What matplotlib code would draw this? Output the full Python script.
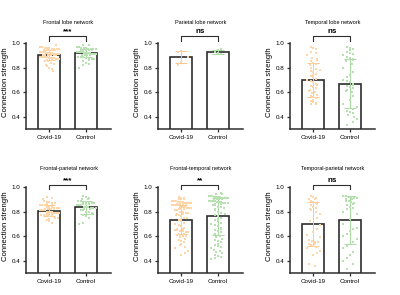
import matplotlib
matplotlib.use('Agg')
import matplotlib.pyplot as plt
import numpy as np

plt.rcParams['font.family'] = ['Liberation Sans', 'DejaVu Sans']

titles = ['Frontal lobe network', 'Parietal lobe network', 'Temporal lobe network',
          'Frontal-parietal network', 'Frontal-temporal network', 'Temporal-parietal network']
groups = ['Covid-19', 'Control']
sigs = ['***', 'ns', 'ns', '***', '**', 'ns']

# bar heights (mean) and SD: (covid, control)
means = [(0.905, 0.918), (0.886, 0.927), (0.697, 0.670),
         (0.805, 0.834), (0.735, 0.760), (0.700, 0.730)]
sds = [(0.04, 0.03), (0.05, 0.02), (0.14, 0.20),
       (0.045, 0.05), (0.12, 0.15), (0.18, 0.195)]

# individual points (estimated)
fl_covid = [0.98, 0.97, 0.97, 0.96, 0.96, 0.96, 0.95, 0.95, 0.95, 0.95, 0.94, 0.94, 0.94, 0.94, 0.94,
            0.93, 0.93, 0.93, 0.93, 0.93, 0.93, 0.92, 0.92, 0.92, 0.92, 0.92, 0.92, 0.92, 0.91, 0.91,
            0.91, 0.91, 0.91, 0.91, 0.91, 0.90, 0.90, 0.90, 0.90, 0.90, 0.90, 0.89, 0.89, 0.89, 0.89,
            0.89, 0.88, 0.88, 0.88, 0.88, 0.87, 0.87, 0.87, 0.86, 0.86, 0.85, 0.85, 0.84, 0.83, 0.82,
            0.81, 0.80, 0.79, 0.77]
fl_control = [0.98, 0.98, 0.97, 0.97, 0.96, 0.96, 0.96, 0.95, 0.95, 0.95, 0.95, 0.94, 0.94, 0.94, 0.94,
              0.94, 0.93, 0.93, 0.93, 0.93, 0.93, 0.93, 0.92, 0.92, 0.92, 0.92, 0.92, 0.92, 0.91, 0.91,
              0.91, 0.91, 0.91, 0.90, 0.90, 0.90, 0.90, 0.89, 0.89, 0.89, 0.88, 0.88, 0.87, 0.87, 0.86,
              0.85, 0.84, 0.83, 0.82, 0.80]
pl_covid = [0.935, 0.93, 0.89, 0.845, 0.82]
pl_control = [0.95, 0.94, 0.93, 0.92, 0.91]
tl_covid = [0.97, 0.96, 0.95, 0.93, 0.92, 0.90, 0.88, 0.87, 0.86, 0.85, 0.84, 0.83, 0.82, 0.80, 0.79,
            0.78, 0.77, 0.76, 0.75, 0.74, 0.73, 0.72, 0.71, 0.70, 0.69, 0.68, 0.67, 0.66, 0.65, 0.64,
            0.63, 0.62, 0.61, 0.60, 0.59, 0.58, 0.57, 0.56, 0.55, 0.54, 0.53, 0.52, 0.51, 0.50, 0.50]
tl_control = [0.97, 0.96, 0.95, 0.94, 0.93, 0.92, 0.91, 0.90, 0.89, 0.88, 0.87, 0.86, 0.85, 0.83,
              0.80, 0.76, 0.74, 0.72, 0.70, 0.69, 0.68, 0.67, 0.66, 0.65, 0.64, 0.63, 0.62, 0.61,
              0.60, 0.57, 0.54, 0.50, 0.48, 0.46, 0.45, 0.44, 0.43, 0.41, 0.40, 0.38, 0.36, 0.33]
fp_covid = [0.92, 0.91, 0.90, 0.89, 0.88, 0.88, 0.87, 0.87, 0.86, 0.86, 0.85, 0.85, 0.85, 0.84, 0.84,
            0.84, 0.83, 0.83, 0.83, 0.82, 0.82, 0.82, 0.82, 0.81, 0.81, 0.81, 0.81, 0.80, 0.80, 0.80,
            0.80, 0.79, 0.79, 0.79, 0.79, 0.78, 0.78, 0.78, 0.77, 0.77, 0.77, 0.76, 0.76, 0.75, 0.75,
            0.74, 0.73, 0.72, 0.71]
fp_control = [0.93, 0.92, 0.91, 0.90, 0.90, 0.89, 0.89, 0.88, 0.88, 0.87, 0.87, 0.87, 0.86, 0.86,
              0.86, 0.85, 0.85, 0.85, 0.84, 0.84, 0.84, 0.83, 0.83, 0.83, 0.82, 0.82, 0.81, 0.81,
              0.80, 0.80, 0.79, 0.78, 0.77, 0.76, 0.75, 0.71, 0.70]
ft_covid = [0.92, 0.91, 0.91, 0.90, 0.90, 0.90, 0.89, 0.89, 0.89, 0.88, 0.88, 0.88, 0.88, 0.87, 0.87,
            0.87, 0.87, 0.86, 0.86, 0.86, 0.86, 0.85, 0.85, 0.85, 0.85, 0.84, 0.84, 0.84, 0.83, 0.83,
            0.83, 0.82, 0.82, 0.82, 0.81, 0.81, 0.80, 0.80, 0.79, 0.79, 0.78, 0.78, 0.77, 0.77, 0.76,
            0.75, 0.75, 0.74, 0.73, 0.72, 0.71, 0.70, 0.69, 0.68, 0.67, 0.66, 0.66, 0.65, 0.65, 0.64,
            0.64, 0.63, 0.63, 0.62, 0.62, 0.61, 0.61, 0.60, 0.60, 0.59, 0.58, 0.57, 0.56, 0.55, 0.54,
            0.53, 0.51, 0.50, 0.48, 0.46, 0.45]
ft_control = [0.95, 0.94, 0.94, 0.93, 0.93, 0.93, 0.92, 0.92, 0.92, 0.92, 0.91, 0.91, 0.91, 0.91,
              0.90, 0.90, 0.90, 0.90, 0.89, 0.89, 0.89, 0.89, 0.88, 0.88, 0.88, 0.87, 0.87, 0.87,
              0.86, 0.86, 0.85, 0.85, 0.84, 0.84, 0.83, 0.82, 0.81, 0.80, 0.79, 0.78, 0.77, 0.76,
              0.75, 0.74, 0.73, 0.72, 0.71, 0.70, 0.69, 0.68, 0.67, 0.66, 0.65, 0.64, 0.63, 0.62,
              0.61, 0.60, 0.59, 0.58, 0.57, 0.56, 0.55, 0.54, 0.53, 0.52, 0.51, 0.50, 0.49, 0.48,
              0.47, 0.46, 0.45, 0.44, 0.43, 0.42, 0.41]
tp_covid = [0.93, 0.92, 0.91, 0.90, 0.90, 0.89, 0.88, 0.87, 0.86, 0.85, 0.84, 0.83, 0.82, 0.81, 0.80,
            0.78, 0.75, 0.72, 0.69, 0.66, 0.63, 0.61, 0.59, 0.57, 0.56, 0.55, 0.55, 0.54, 0.54, 0.53,
            0.52, 0.51, 0.50, 0.48, 0.46, 0.45, 0.37, 0.36]
tp_control = [0.93, 0.93, 0.92, 0.92, 0.91, 0.91, 0.90, 0.90, 0.89, 0.89, 0.88, 0.87, 0.86, 0.85,
              0.84, 0.83, 0.82, 0.80, 0.78, 0.74, 0.70, 0.67, 0.66, 0.64, 0.62, 0.60, 0.58, 0.55,
              0.52, 0.50, 0.47, 0.45, 0.42, 0.40, 0.37, 0.33]

points = [(fl_covid, fl_control), (pl_covid, pl_control), (tl_covid, tl_control),
          (fp_covid, fp_control), (ft_covid, ft_control), (tp_covid, tp_control)]

colors = ['#fdd6aa', '#b8e1b1']
err_colors = ['#fcc890', '#a6d99e']
edge = '#2e2e2e'


def swarm_x(vals, center, binw=0.02, step=0.075):
    # spread points of similar value side by side, single ones alternate around the centre
    vals = np.asarray(vals)
    bins = np.round(vals / binw).astype(int)
    xs = np.zeros(len(vals))
    for b in np.unique(bins):
        idx = np.where(bins == b)[0]
        n = len(idx)
        if n == 1:
            offs = np.array([0.09 * ((b % 5) - 2)])
        elif n == 2:
            offs = np.array([-0.08, 0.08]) + 0.03 * ((b % 3) - 1)
        else:
            st = min(step, 0.52 / (n - 1))
            offs = (np.arange(n) - (n - 1) / 2) * st
        xs[idx] = center + offs
    return xs


fig = plt.figure(figsize=(4, 2.95), dpi=100)
lefts = [0.065, 0.395, 0.725]
bottoms = [0.5627, 0.0746]
w, h = 0.2125, 0.2915

for i in range(6):
    r, c = divmod(i, 3)
    ax = fig.add_axes([lefts[c], bottoms[r], w, h])
    for j in range(2):
        ax.bar(j, means[i][j], width=0.6, color='white', edgecolor=edge, linewidth=1.2, zorder=1)
        ax.errorbar(j, means[i][j], yerr=sds[i][j], color=err_colors[j], capsize=4,
                    elinewidth=0.7, capthick=0.7, zorder=2)
        ax.scatter(swarm_x(points[i][j], j), points[i][j], s=2.2, marker='s',
                   color=colors[j], linewidths=0, zorder=3)
    ax.set_xlim(-0.64, 1.68)
    ax.set_ylim(0.3, 1.0)
    ax.set_yticks([0.4, 0.6, 0.8, 1.0])
    ax.set_yticklabels(['0.4', '0.6', '0.8', '1.0'])
    ax.set_xticks([0, 1])
    ax.set_xticklabels(groups)
    ax.tick_params(labelsize=4.5, width=0.9, length=2.5, color=edge, pad=1.5)
    for s in ['top', 'right']:
        ax.spines[s].set_visible(False)
    for s in ['left', 'bottom']:
        ax.spines[s].set_linewidth(1.1)
        ax.spines[s].set_color(edge)
    ax.set_ylabel('Connection strength', fontsize=5.6, labelpad=2)
    ax.yaxis.set_label_coords(-0.2, 0.55)
    ax.text(0.5, 1.24 if r == 0 else 1.22, titles[i], transform=ax.transAxes,
            ha='center', va='center', fontsize=4.0)
    # significance bracket
    by = 1.06 if r == 0 else 1.02
    ax.plot([0, 0, 1, 1], [by - 0.04, by, by, by - 0.04], color=edge, lw=0.8, clip_on=False)
    ax.text(0.5, by + 0.005, sigs[i], ha='center', va='bottom', fontsize=5.8,
            fontweight='bold')

plt.savefig('out.png', dpi=100)
